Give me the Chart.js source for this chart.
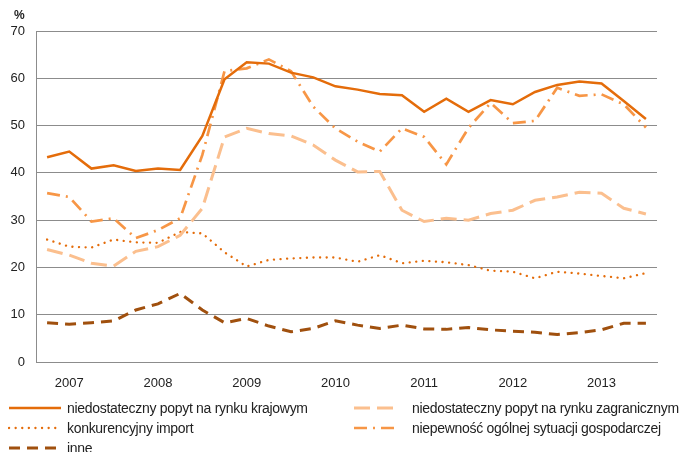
<!DOCTYPE html>
<html lang="pl">
<head>
  <meta charset="UTF-8">
  <title>Czynniki ograniczające działalność</title>
  <script src="https://cdn.jsdelivr.net/npm/chart.js"></script>
  <style>
    body {
      margin: 0;
      background: #fff;
      font-family: "Liberation Sans", Arial, sans-serif;
    }
    #wrap {
      position: relative;
      width: 680px;
      height: 452px;
    }
    #unit {
      position: absolute;
      left: 14px;
      top: 8px;
      font-size: 12px;
      font-weight: bold;
      color: #222;
    }
    #legend {
      position: absolute;
      left: 0;
      top: 398px;
      width: 680px;
      font-size: 14px;
      letter-spacing: -0.3px;
      color: #222;
    }
    .item {
      position: absolute;
      height: 20px;
      display: flex;
      align-items: center;
      white-space: nowrap;
    }
  </style>
</head>
<body>
<div id="wrap">
  <canvas id="chart" width="680" height="452"></canvas>
  <div id="unit">%</div>
  <div id="legend"></div>
</div>

<script>
  // kwartały 2007 Q1 - 2013 Q4
  const years = ['2007', '2008', '2009', '2010', '2011', '2012', '2013'];
  const quarters = [];
  years.forEach(y => ['I', 'II', 'III', 'IV'].forEach(q => quarters.push(y + ' ' + q)));

  const popytKrajowy = [43.3, 44.5, 40.9, 41.6, 40.4, 40.9, 40.6, 47.8,
    59.8, 63.4, 63.1, 61.2, 60.2, 58.3, 57.6, 56.7, 56.4, 52.9, 55.7, 52.9,
    55.4, 54.5, 57.1, 58.6, 59.3, 58.9, 55.2, 51.4];
  const popytZagraniczny = [23.8, 22.6, 20.9, 20.3, 23.4, 24.4, 26.8, 32.5,
    47.6, 49.4, 48.3, 47.8, 45.9, 42.7, 40.2, 40.3, 32.1, 29.7, 30.4, 30.0,
    31.4, 32.1, 34.2, 34.9, 35.9, 35.7, 32.5, 31.3];
  const importKonk = [25.9, 24.4, 24.2, 25.9, 25.3, 25.2, 27.5, 27.2,
    23.2, 20.2, 21.6, 21.9, 22.1, 22.1, 21.2, 22.6, 20.9, 21.4, 21.1, 20.5,
    19.3, 19.1, 17.7, 19.1, 18.7, 18.2, 17.7, 18.8];
  const niepewnosc = [35.7, 34.9, 29.7, 30.4, 26.2, 27.9, 30.4, 43.8,
    61.5, 62.1, 64.0, 61.5, 54.0, 49.4, 46.6, 44.5, 49.4, 47.6, 41.8, 49.5,
    54.8, 50.5, 51.0, 58.0, 56.3, 56.6, 54.5, 49.6];
  const inne = [8.3, 8.0, 8.3, 8.7, 11.0, 12.3, 14.5, 11.0,
    8.3, 9.2, 7.6, 6.4, 7.1, 8.7, 7.8, 7.1, 7.8, 7.0, 6.9, 7.3,
    6.8, 6.5, 6.3, 5.8, 6.2, 6.8, 8.2, 8.2];
  const yTicks = [0, 10, 20, 30, 40, 50, 60, 70];

  const series = [
    { label: 'niedostateczny popyt na rynku krajowym', data: popytKrajowy, color: '#E46C0A', width: 2.5, dash: [], cap: 'butt' },
    { label: 'niedostateczny popyt na rynku zagranicznym', data: popytZagraniczny, color: '#FBBF8E', width: 3, dash: [16, 7], cap: 'butt' },
    { label: 'konkurencyjny import', data: importKonk, color: '#E46C0A', width: 2.3, dash: [0.1, 6.5], cap: 'round' },
    { label: 'niepewność ogólnej sytuacji gospodarczej', data: niepewnosc, color: '#F79646', width: 2.7, dash: [13, 6, 2, 6], cap: 'butt' },
    { label: 'inne', data: inne, color: '#A0500E', width: 3, dash: [11, 7], cap: 'butt' }
  ];

  const ctx = document.getElementById('chart').getContext('2d');
  const chart = new Chart(ctx, {
    type: 'line',
    data: {
      labels: quarters,
      datasets: series.map(s => ({
        label: s.label,
        data: s.data,
        borderColor: s.color,
        borderWidth: s.width,
        borderDash: s.dash,
        borderCapStyle: s.cap,
        pointRadius: 0,
        tension: 0,
        fill: false
      }))
    },
    options: {
      responsive: false,
      animation: false,
      layout: { padding: { top: 31, right: 23, bottom: 60, left: 0 } },
      plugins: {
        legend: { display: false },
        tooltip: { enabled: false }
      },
      scales: {
        x: {
          offset: true,
          grid: { display: false },
          border: { color: '#8c8c8c', width: 1 },
          ticks: {
            autoSkip: false,
            maxRotation: 0,
            padding: 6,
            color: '#222',
            font: { family: 'Liberation Sans', size: 13 },
            callback: (v, i) => i % 4 === 1 ? years[(i - 1) / 4] : ''
          },
          afterFit: s => { s.height = 30; }
        },
        y: {
          min: 0,
          max: 70,
          afterBuildTicks: s => { s.ticks = yTicks.map(v => ({ value: v })); },
          grid: { color: '#8c8c8c', lineWidth: 1, drawTicks: false },
          border: { color: '#8c8c8c', width: 1 },
          ticks: {
            padding: 11,
            color: '#222',
            font: { family: 'Liberation Sans', size: 13 }
          },
          afterFit: s => { s.width = 36; }
        }
      }
    }
  });

  // legenda w dwóch kolumnach
  const legendPos = [[8, 0], [353, 0], [8, 20], [353, 20], [8, 40]];
  const legend = document.getElementById('legend');
  series.forEach((s, i) => {
    const left = i % 2 === 0;
    const w = left ? 54 : 44;
    const gap = left ? 5 : 15;
    const el = document.createElement('div');
    el.className = 'item';
    el.style.left = legendPos[i][0] + 'px';
    el.style.top = legendPos[i][1] + 'px';
    el.innerHTML = '<svg width="' + w + '" height="6" style="margin-right:' + gap + 'px">' +
      '<line x1="1" y1="3" x2="' + (w - 1) + '" y2="3" stroke="' + s.color + '" stroke-width="' + s.width +
      '" stroke-dasharray="' + (s.dash.length ? s.dash.join(' ') : 'none') + '" stroke-linecap="' + s.cap + '"/></svg>' +
      '<span>' + s.label + '</span>';
    legend.appendChild(el);
  });
</script>
</body>
</html>
